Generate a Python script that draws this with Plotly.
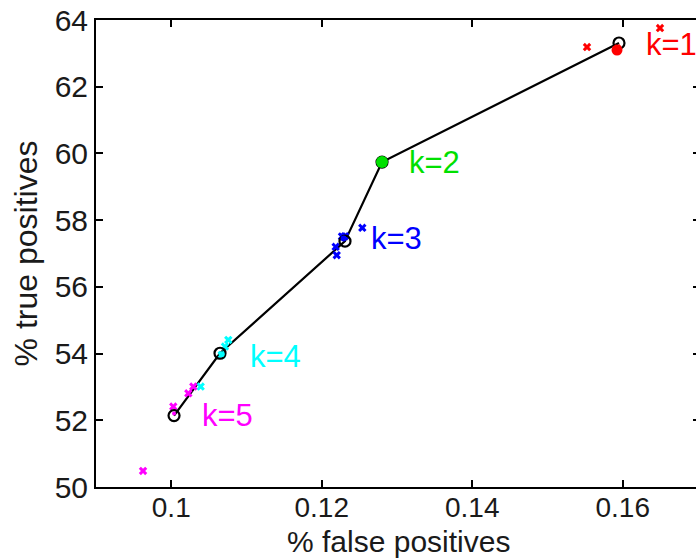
import plotly.graph_objects as go

# ---- data ----
k_labels = ["k=1", "k=2", "k=3", "k=4", "k=5"]
k_colors = ["#ff0000", "#00e000", "#0000ff", "#00ffff", "#ff00ff"]

# black curve with open circles (one point per k)
curve_fp = [0.15950, 0.12801, 0.12309, 0.10648, 0.10037]
curve_tp = [63.31, 59.74, 57.37, 54.01, 52.14]

# filled coloured circle per k
mean_fp = [0.15924, 0.12801, 0.12290, 0.10670, 0.10037]
mean_tp = [63.10, 59.74, 57.45, 53.98, 52.20]

# individual runs (x markers) per k
runs_fp = [
    [0.15525, 0.16495, 0.15924],
    [0.12801],
    [0.12185, 0.12199, 0.12269, 0.12309, 0.12539],
    [0.10758, 0.10714, 0.10670, 0.10391],
    [0.10293, 0.10227, 0.10027, 0.09625],
]
runs_tp = [
    [63.19, 63.76, 63.15],
    [59.74],
    [57.20, 56.95, 57.51, 57.52, 57.77],
    [54.41, 54.21, 53.96, 53.01],
    [53.01, 52.81, 52.41, 50.48],
]

x_ticks = [0.10, 0.12, 0.14, 0.16]
x_ticktext = ["0.1", "0.12", "0.14", "0.16"]
y_ticks = [50, 52, 54, 56, 58, 60, 62, 64]

x_title = "% false positives"
y_title = "% true positives"

# ---- figure ----
FONT = "Liberation Sans, Arial, Helvetica, sans-serif"
fig = go.Figure()

fig.add_trace(go.Scatter(
    x=curve_fp, y=curve_tp, mode="lines",
    line=dict(color="black", width=2.2), hoverinfo="skip", showlegend=False))

for i in range(len(k_labels)):
    fig.add_trace(go.Scatter(
        x=runs_fp[i], y=runs_tp[i], mode="markers",
        marker=dict(symbol="x", size=7.5, color=k_colors[i], line=dict(width=0)),
        showlegend=False, name=k_labels[i]))

fig.add_trace(go.Scatter(
    x=curve_fp, y=curve_tp, mode="markers",
    marker=dict(symbol="circle-open", size=11, color="black", line=dict(width=2.2)),
    showlegend=False))

mean_sizes = [11, 12, 6, 6, 4]
for i in range(len(k_labels)):
    fig.add_trace(go.Scatter(
        x=[mean_fp[i]], y=[mean_tp[i]], mode="markers",
        marker=dict(symbol="circle", size=mean_sizes[i], color=k_colors[i]),
        showlegend=False, name=k_labels[i]))

label_shift = [(25, -1), (25, 0), (24, 3), (28, -3), (26, 0)]
for i, lab in enumerate(k_labels):
    fig.add_annotation(
        x=curve_fp[i], y=curve_tp[i], text=lab, showarrow=False,
        xanchor="left", yanchor="middle",
        xshift=label_shift[i][0], yshift=label_shift[i][1],
        font=dict(family=FONT, size=31, color=k_colors[i]))

# x-axis title as a bottom-anchored annotation (keeps clear of tick labels)
fig.add_annotation(
    x=0.5, xref="paper", y=0, yref="paper", yanchor="bottom", xanchor="center",
    yshift=-72, xshift=2, text=x_title, showarrow=False, borderpad=0,
    font=dict(family=FONT, size=30, color="#1a1a1a"))

# dummy trace for right-hand tick axis
fig.add_trace(go.Scatter(x=[curve_fp[0]], y=[curve_tp[0]], yaxis="y2",
                         mode="markers", marker=dict(opacity=0),
                         hoverinfo="skip", showlegend=False))

fig.update_layout(
    width=696, height=559,
    margin=dict(l=96, r=0, t=20, b=72),
    paper_bgcolor="white", plot_bgcolor="white",
    font=dict(family=FONT, size=30, color="#1a1a1a"),
    xaxis=dict(
        range=[0.09, 0.09 + 600 / 7525],
        tickvals=x_ticks, ticktext=x_ticktext,
        ticks="inside", ticklen=7, tickwidth=2, tickcolor="black",
        showline=True, linewidth=2, linecolor="black", mirror="ticks",
        showgrid=False, zeroline=False,
        tickfont=dict(size=28), ticklabelstandoff=-6,
    ),
    yaxis=dict(
        range=[50, 64], tickvals=y_ticks,
        ticks="inside", ticklen=7, tickwidth=2, tickcolor="black",
        showline=True, linewidth=2, linecolor="black", mirror=False,
        showgrid=False, zeroline=False,
        tickfont=dict(size=30),
        title=dict(text=y_title, standoff=7, font=dict(size=32)),
    ),
    yaxis2=dict(
        overlaying="y", side="right", range=[50, 64], tickvals=y_ticks,
        ticks="inside", ticklen=3, tickwidth=2, tickcolor="black",
        showticklabels=False, showline=False, showgrid=False, zeroline=False,
    ),
)

fig.write_html("out.html")
